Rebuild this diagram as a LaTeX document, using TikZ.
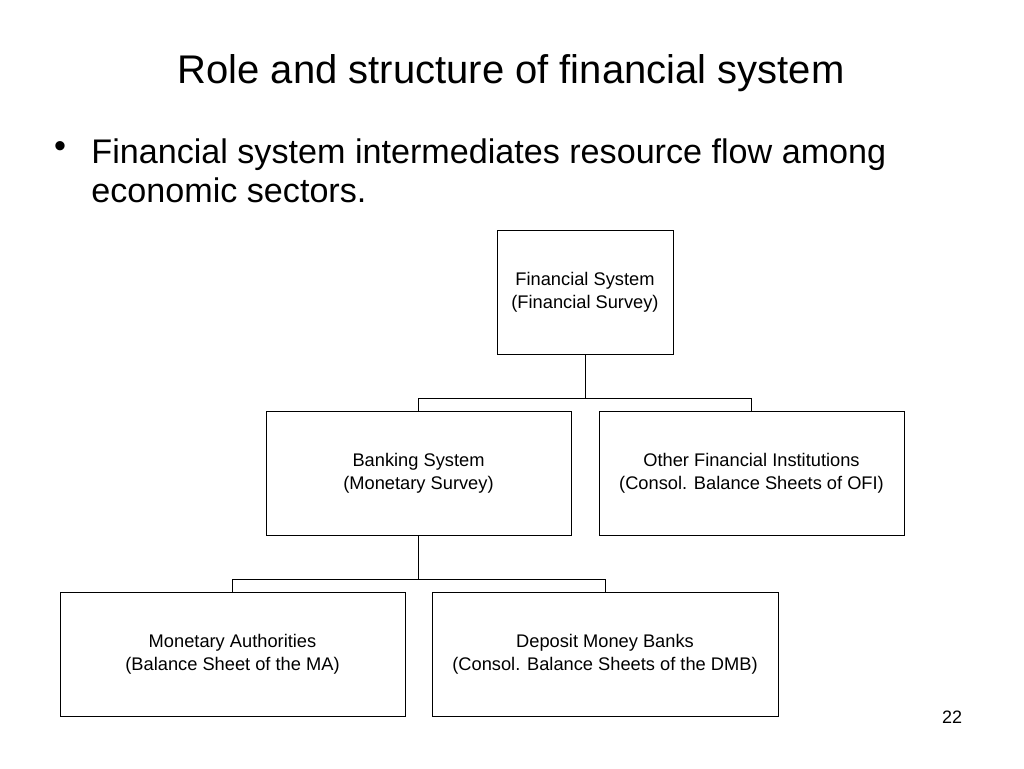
\documentclass[tikz,border=0pt]{standalone}
\usepackage{fontspec}
\setmainfont{Liberation Sans}
\usetikzlibrary{positioning}
\begin{document}
\begin{tikzpicture}[x=0.75pt,y=-0.75pt,semithick]
\tikzset{box/.style={draw=black,align=center,font=\fontsize{13.7}{17}\selectfont},
         link/.style={draw=black}}
\useasboundingbox (0,0) rectangle (1024,768);

\node[font=\fontsize{30}{34}\selectfont] (title) at (511,73) {Role and structure of financial system};
\node[font=\fontsize{25.6}{29}\selectfont] (dot) at (60,150) {\textbullet};
\node[anchor=north west,align=left,inner sep=0pt,font=\fontsize{25.6}{29.3}\selectfont] (txt) at (91,138)
  {Financial system intermediates resource flow among\\economic sectors.};

\node[box,minimum width=176*0.75pt,minimum height=124*0.75pt] (fs) at (585,292) {Financial System\\(Financial Survey)};
\node[box,minimum width=305*0.75pt,minimum height=124*0.75pt] (bs) at (418.5,473) {Banking System\\(Monetary Survey)};
\node[box,minimum width=305*0.75pt,minimum height=124*0.75pt] (ofi) at (751.5,473) {Other Financial Institutions\\(Consol. Balance Sheets of OFI)};
\node[box,minimum width=345*0.75pt,minimum height=124*0.75pt] (ma) at (232.5,654) {Monetary Authorities\\(Balance Sheet of the MA)};
\node[box,minimum width=346*0.75pt,minimum height=124*0.75pt] (dmb) at (605,654) {Deposit Money Banks\\(Consol. Balance Sheets of the DMB)};

% tree links
\draw[link] (fs.south) -- ++(0,44) -| (bs.north);
\draw[link] (fs.south) -- ++(0,44) -| (ofi.north);
\draw[link] (bs.south) -- ++(0,44) -| (ma.north);
\draw[link] (bs.south) -- ++(0,44) -| (dmb.north);

\node[font=\fontsize{13.5}{16}\selectfont] (page) at (952,717) {22};
\end{tikzpicture}
\end{document}
